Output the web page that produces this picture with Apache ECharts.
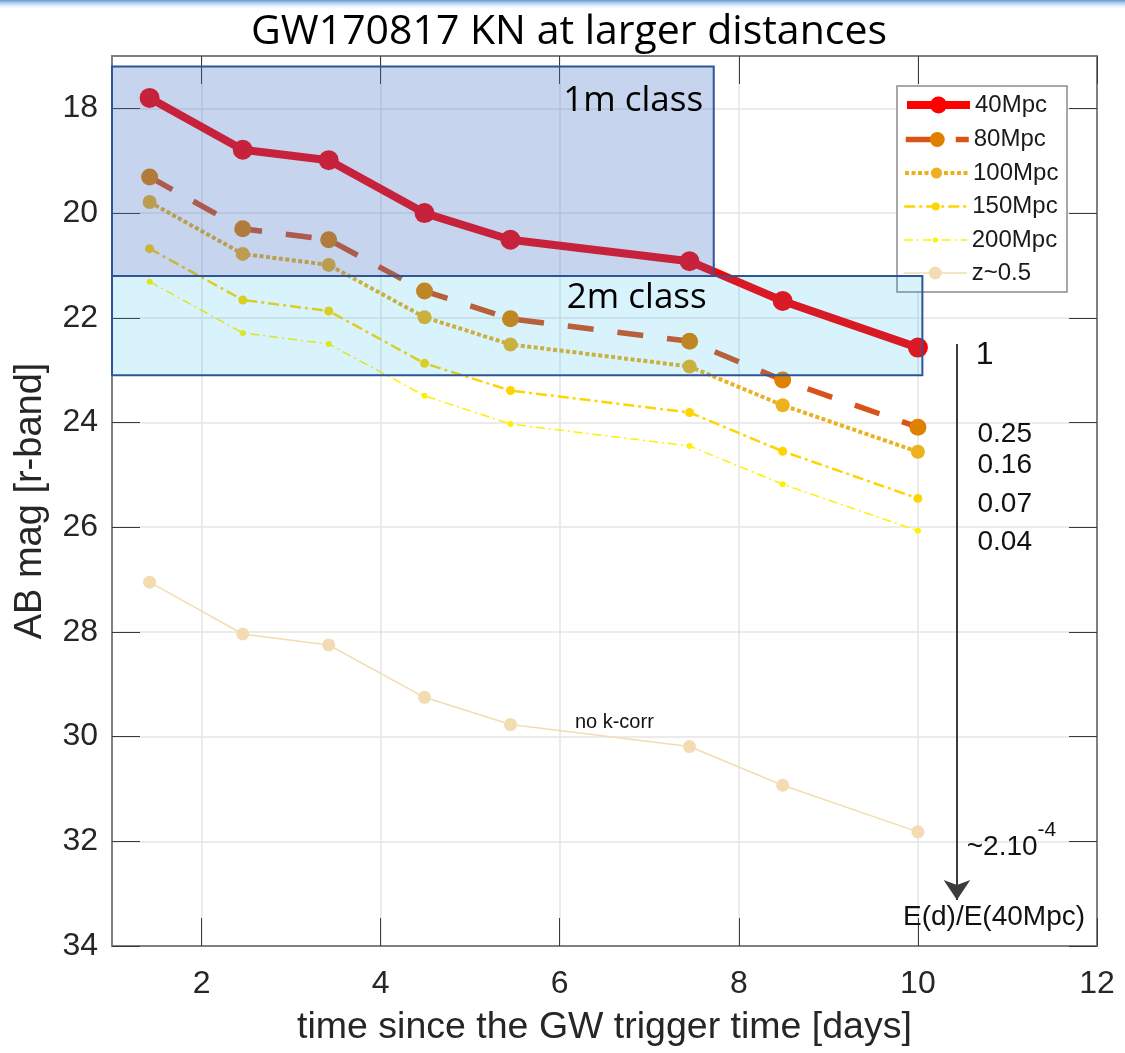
<!DOCTYPE html>
<html>
<head>
<meta charset="utf-8">
<script src="https://cdn.jsdelivr.net/npm/echarts@6/dist/echarts.min.js"></script>
<style>
html, body { margin: 0; padding: 0; background: #ffffff; }
#chart { width: 1125px; height: 1053px; }
</style>
</head>
<body>
<div id="chart"></div>
<script>
// r-band light curve of the GW170817 kilonova, shifted to larger distances
const days = [1.42, 2.46, 3.42, 4.49, 5.45, 7.45, 8.49, 10.0];
const mag40Mpc  = [17.80, 18.79, 18.99, 20.00, 20.51, 20.92, 21.68, 22.57];
const mag80Mpc  = [19.31, 20.30, 20.51, 21.49, 22.02, 22.45, 23.19, 24.09];
const mag100Mpc = [19.79, 20.78, 20.99, 21.99, 22.51, 22.93, 23.67, 24.56];
const mag150Mpc = [20.68, 21.66, 21.87, 22.87, 23.39, 23.81, 24.55, 25.45];
const mag200Mpc = [21.31, 22.29, 22.50, 23.49, 24.03, 24.45, 25.18, 26.07];
const magZ05    = [27.05, 28.04, 28.25, 29.25, 29.77, 30.19, 30.93, 31.82];
const seriesNames = ['40Mpc', '80Mpc', '100Mpc', '150Mpc', '200Mpc', 'z~0.5'];

// Telescope depth bands (day range, bright and faint magnitude limits)
const classNames = ['1m class', '2m class'];
const classDayStart = [1, 1];
const classDayEnd = [7.72, 10.05];
const classMagBright = [17.2, 21.2];
const classMagFaint = [21.2, 23.1];

// Energy received relative to the 40 Mpc case
const energyRatios = ['1', '0.25', '0.16', '0.07', '0.04', '~2.10{sup|-4}'];

// Axis ticks
const dayTicks = [2, 4, 6, 8, 10, 12];
const magTicks = [18, 20, 22, 24, 26, 28, 30, 32, 34];

const FONT = '"Liberation Sans", Arial, Helvetica, sans-serif';
const SLIDE_FONT = '"Open Sans", "Noto Sans", sans-serif';

const magSets = [mag40Mpc, mag80Mpc, mag100Mpc, mag150Mpc, mag200Mpc, magZ05];

const looks = [
  { line: '#ff0000', dot: '#ff0000', width: 8,   dash: 'solid',        size: 20, legendSize: 17 },
  { line: '#d95319', dot: '#e08000', width: 5.5, dash: [26, 24],       size: 17, legendSize: 15 },
  { line: '#edb120', dot: '#edb120', width: 4,   dash: [4, 2.5],       size: 14, legendSize: 11 },
  { line: '#ffd400', dot: '#ffd400', width: 2.5, dash: [11, 4, 3, 4],  size: 9,  legendSize: 8 },
  { line: '#fff000', dot: '#fff000', width: 1.5, dash: [9, 4, 2, 4],   size: 6,  legendSize: 5 },
  { line: '#f3dcb2', dot: '#f3dcb2', width: 1.5, dash: 'solid',        size: 13, legendSize: 13 }
];

const curveSeries = seriesNames.map((name, i) => ({
  name: name,
  type: 'line',
  z: 2,
  data: days.map((d, k) => [d, magSets[i][k]]),
  symbol: 'circle',
  symbolSize: looks[i].size,
  showSymbol: true,
  lineStyle: { color: looks[i].line, width: looks[i].width, type: looks[i].dash, cap: 'butt' },
  itemStyle: { color: looks[i].dot, borderWidth: 0 },
  emphasis: { disabled: true }
}));

// Legend: one component per row so each keeps its own marker size
const legendRowCenter = [105, 139.5, 173, 206.5, 240, 273];
const legends = seriesNames.map((name, i) => ({
  data: [name],
  orient: 'vertical',
  left: 903,
  top: legendRowCenter[i] - 12,
  padding: 0,
  itemWidth: 63,
  itemHeight: looks[i].legendSize / 0.8,
  selectedMode: false,
  textStyle: { fontFamily: FONT, fontSize: 24, color: '#1a1a1a' },
  lineStyle: { color: looks[i].line, width: looks[i].width, type: looks[i].dash, cap: 'butt' },
  itemStyle: { color: looks[i].dot, borderWidth: 0 }
}));

// Depth bands drawn over the curves
const bandFill = ['rgba(68,114,196,0.30)', 'rgba(0,176,240,0.15)'];
const bandLabelAt = [[6.82, 17.86], [6.86, 21.62]];
const bandSeries = {
  type: 'custom',
  name: 'depth bands',
  z: 3,
  silent: true,
  data: classNames.map((n, i) => [classDayStart[i], classDayEnd[i], classMagBright[i], classMagFaint[i]]),
  encode: { x: [0, 1], y: [2, 3] },
  renderItem: function (params, api) {
    const i = params.dataIndex;
    const a = api.coord([api.value(0), api.value(2)]);
    const b = api.coord([api.value(1), api.value(3)]);
    const lab = api.coord(bandLabelAt[i]);
    return {
      type: 'group',
      children: [
        {
          type: 'rect',
          shape: {
            x: Math.min(a[0], b[0]), y: Math.min(a[1], b[1]),
            width: Math.abs(b[0] - a[0]), height: Math.abs(b[1] - a[1])
          },
          style: { fill: bandFill[i], stroke: '#2f5597', lineWidth: 2 }
        },
        {
          type: 'text',
          x: lab[0], y: lab[1],
          style: {
            text: classNames[i], fill: '#000000',
            font: '35px ' + SLIDE_FONT, align: 'center', verticalAlign: 'middle'
          }
        }
      ]
    };
  }
};

// Text notes placed in data coordinates, plus the energy-ratio arrow
const ratioAt = [[10.64, 22.72], [10.66, 24.22], [10.66, 24.82], [10.66, 25.56], [10.66, 26.29], [10.54, 31.98]];
const noteData = energyRatios.map((t, i) => ({
  value: ratioAt[i],
  name: t,
  label: {
    show: true, position: 'right', distance: 0,
    formatter: i === 5 ? '{b|~2.10}{sup|-4}' : '{b}',
    fontFamily: FONT, fontSize: i === 0 ? 32 : 28, color: '#111111',
    rich: {
      b: { fontFamily: FONT, fontSize: 28, lineHeight: 42, color: '#111111', verticalAlign: 'bottom' },
      sup: { fontFamily: FONT, fontSize: 21, lineHeight: 22, color: '#111111', verticalAlign: 'top' }
    }
  }
}));
noteData.push({
  value: [10.85, 33.46], name: 'E(d)/E(40Mpc)',
  label: { show: true, position: 'inside', formatter: '{b}', fontFamily: FONT, fontSize: 28, color: '#111111' }
});
noteData.push({
  value: [6.61, 29.74], name: 'no k-corr',
  label: { show: true, position: 'inside', formatter: '{b}', fontFamily: FONT, fontSize: 20, color: '#111111' }
});

const noteSeries = {
  type: 'scatter',
  name: 'notes',
  z: 4,
  silent: true,
  symbolSize: 1,
  itemStyle: { color: 'rgba(0,0,0,0)', opacity: 1 },
  data: noteData,
  markLine: {
    silent: true,
    symbol: ['none', 'arrow'],
    symbolSize: 20,
    label: { show: false },
    lineStyle: { color: '#3c3c3c', width: 2, type: 'solid', opacity: 1 },
    data: [[{ coord: [10.436, 22.5] }, { coord: [10.436, 33.12] }]]
  }
};

const axisCommonX = {
  type: 'value', min: 1, max: 12, splitNumber: 5, minInterval: 2, maxInterval: 2
};
const axisCommonY = {
  type: 'value', min: 17, max: 34, inverse: true, splitNumber: 8, minInterval: 2, maxInterval: 2
};

const option = {
  animation: false,
  backgroundColor: '#ffffff',
  textStyle: { fontFamily: FONT },
  grid: { left: 112, right: 28, top: 56, bottom: 107, containLabel: false },
  xAxis: [
    Object.assign({}, axisCommonX, {
      position: 'bottom',
      name: 'time since the GW trigger time [days]',
      nameLocation: 'middle',
      nameGap: 63,
      nameTextStyle: { fontFamily: FONT, fontSize: 37.5, color: '#262626' },
      axisLine: { show: true, onZero: false, lineStyle: { color: '#808080', width: 2 } },
      axisTick: { show: true, inside: true, length: 28, customValues: dayTicks, lineStyle: { color: '#3a3a3a', width: 1 } },
      axisLabel: { show: true, margin: 22, customValues: dayTicks, fontFamily: FONT, fontSize: 32, color: '#262626' },
      splitLine: { show: true, lineStyle: { color: '#e4e4e4', width: 1.5 } }
    }),
    Object.assign({}, axisCommonX, {
      position: 'top',
      axisLine: { show: true, onZero: false, lineStyle: { color: '#808080', width: 2 } },
      axisTick: { show: true, inside: true, length: 28, customValues: dayTicks, lineStyle: { color: '#3a3a3a', width: 1 } },
      axisLabel: { show: false },
      splitLine: { show: false }
    })
  ],
  yAxis: [
    Object.assign({}, axisCommonY, {
      position: 'left',
      name: 'AB mag [r-band]',
      nameLocation: 'middle',
      nameGap: 62,
      nameRotate: 90,
      nameTextStyle: { fontFamily: FONT, fontSize: 38, color: '#262626' },
      axisLine: { show: true, onZero: false, lineStyle: { color: '#808080', width: 2 } },
      axisTick: { show: true, inside: true, length: 28, customValues: magTicks, lineStyle: { color: '#3a3a3a', width: 1 } },
      axisLabel: { show: true, margin: 14, customValues: magTicks, fontFamily: FONT, fontSize: 32, color: '#262626' },
      splitLine: { show: true, lineStyle: { color: '#e4e4e4', width: 1.5 } }
    }),
    Object.assign({}, axisCommonY, {
      position: 'right',
      axisLine: { show: true, onZero: false, lineStyle: { color: '#808080', width: 2 } },
      axisTick: { show: true, inside: true, length: 28, customValues: magTicks, lineStyle: { color: '#3a3a3a', width: 1 } },
      axisLabel: { show: false },
      splitLine: { show: false }
    })
  ],
  legend: legends,
  graphic: [
    {
      type: 'rect', left: 0, top: 0, z: 0,
      shape: { width: 1125, height: 10 },
      style: {
        fill: new echarts.graphic.LinearGradient(0, 0, 0, 1, [
          { offset: 0, color: '#5b9bd5' },
          { offset: 1, color: 'rgba(255,255,255,0)' }
        ])
      }
    },
    {
      type: 'text', x: 569, y: 32, z: 5,
      style: {
        text: 'GW170817 KN at larger distances',
        font: '41px ' + SLIDE_FONT, fill: '#000000',
        align: 'center', verticalAlign: 'middle'
      }
    },
    {
      type: 'rect', x: 897, y: 86, z: 1,
      shape: { x: 0, y: 0, width: 170, height: 206 },
      style: { fill: '#ffffff', stroke: '#8c8c8c', lineWidth: 1.5 }
    }
  ],
  series: curveSeries.concat([bandSeries, noteSeries])
};

const chart = echarts.init(document.getElementById('chart'), null, { renderer: 'canvas' });
chart.setOption(option);
</script>
</body>
</html>
